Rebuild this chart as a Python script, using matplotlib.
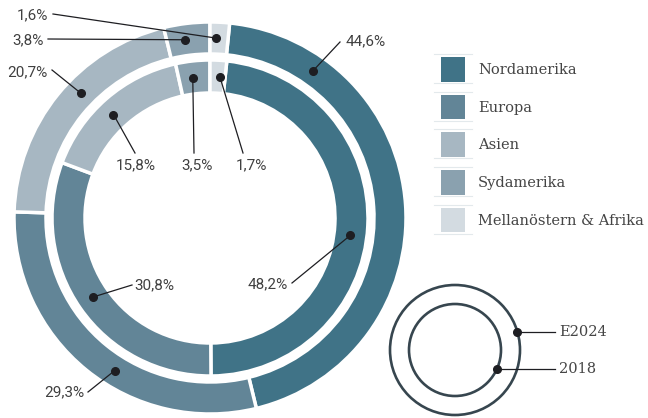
import numpy as np
import matplotlib.pyplot as plt
from matplotlib.patches import Circle, Rectangle

regions = ['Nordamerika', 'Europa', 'Asien', 'Sydamerika', 'Mellanöstern & Afrika']
share_2024 = [44.6, 29.3, 20.7, 3.8, 1.6]
share_2018 = [48.2, 30.8, 15.8, 3.5, 1.7]
colors = ['#407387', '#628597', '#a7b7c2', '#8aa1af', '#d3dbe1']
year_labels = ['E2024', '2018']

W, H = 648, 418
fig = plt.figure(figsize=(6.48, 4.18), dpi=100)
ax = fig.add_axes([0, 0, 1, 1])

cx, cy = 210, H - 218
R_out, w_out = 196, 32
R_in, w_in = 158, 33

ax.pie(share_2024, radius=R_out, center=(cx, cy), colors=colors, counterclock=False,
       startangle=90 - share_2024[-1] * 3.6,
       wedgeprops=dict(width=w_out, edgecolor='white', linewidth=2.5))
ax.pie(share_2018, radius=R_in, center=(cx, cy), colors=colors, counterclock=False,
       startangle=90 - share_2018[-1] * 3.6,
       wedgeprops=dict(width=w_in, edgecolor='white', linewidth=2.5))

ax.set_xlim(0, W)
ax.set_ylim(0, H)
ax.set_aspect('equal')
ax.axis('off')

txt = dict(family='Roboto', fontsize=11, color='#404040')
serif = dict(family='DejaVu Serif', fontsize=10.5, color='#454545')
ink = '#1e1e22'

def fmt(v):
    return f'{v:.1f}'.replace('.', ',') + '%'

# label placement: (ring, index, angle on ring, line end x, y, text x, y, ha)
r_mid_out = R_out - w_out / 2
r_mid_in = R_in - w_in / 2
labels = [
    ('out', 4, 2, 53, 14, 48, 15, 'right'),
    ('out', 3, -8, 48, 39, 44, 40, 'right'),
    ('out', 2, -46, 52, 70, 48, 72, 'right'),
    ('out', 0, 35, 340, 42, 346, 41, 'left'),
    ('out', 1, 212, 88, 392, 84, 392, 'right'),
    ('in', 2, -43, 135, 153, 136, 165, 'center'),
    ('in', 3, -7, 194, 153, 197, 165, 'center'),
    ('in', 4, 4, 243, 153, 251, 165, 'center'),
    ('in', 0, 97, 292, 283, 288, 284, 'right'),
    ('in', 1, 236, 132, 285, 134, 285, 'left'),
]
for ring, i, ang, lx, ly, tx, ty, ha in labels:
    r = r_mid_out if ring == 'out' else r_mid_in
    v = share_2024[i] if ring == 'out' else share_2018[i]
    a = np.radians(ang)
    dx, dy = cx + r * np.sin(a), cy + r * np.cos(a)
    ax.plot([dx, lx], [dy, H - ly], color=ink, lw=0.9, zorder=5)
    ax.plot(dx, dy, 'o', color=ink, ms=5.5, zorder=6)
    ax.text(tx, H - ty, fmt(v), ha=ha, va='center', **txt)

# legend
for k, name in enumerate(regions):
    top = 57 + k * 37.7
    ax.add_patch(Rectangle((441, H - top - 24.5), 24, 24.5, color=colors[k], lw=0))
    for yl in (top - 3, top + 26):
        ax.plot([434, 472], [H - yl, H - yl], color='#e3e9ec', lw=0.8)
    ax.text(478, H - top - 13, name, ha='left', va='center', **serif)

# year key
kx, ky = 455, H - 350
circ_col = '#37464f'
for rr, ang, ty, lab in [(65, 74, 332, year_labels[0]), (46, 114, 369, year_labels[1])]:
    ax.add_patch(Circle((kx, ky), rr, fill=False, ec=circ_col, lw=1.9))
    a = np.radians(ang)
    px, py = kx + rr * np.sin(a), ky + rr * np.cos(a)
    ax.plot([px, 555], [py, py], color=ink, lw=0.9)
    ax.plot(px, py, 'o', color=ink, ms=5.5, zorder=6)
    ax.text(559, py, lab, ha='left', va='center', **serif)

fig.savefig('out.png', dpi=100)
